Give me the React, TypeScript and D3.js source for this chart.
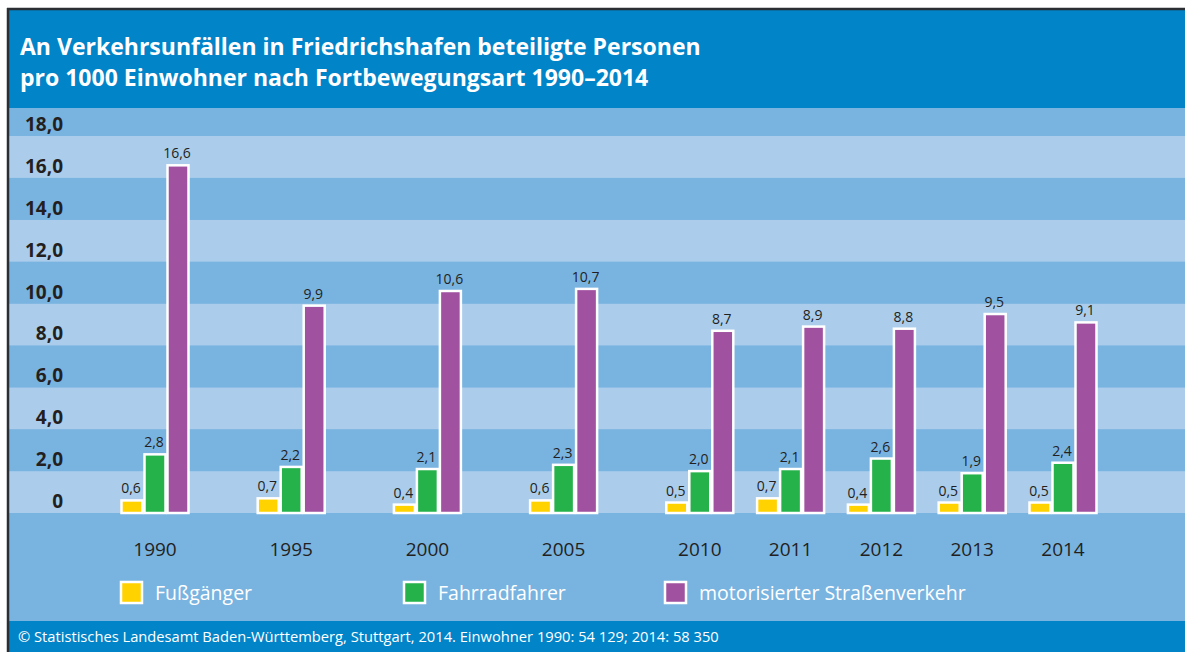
import React from "react";
import * as d3 from "d3";

const years = ["1990", "1995", "2000", "2005", "2010", "2011", "2012", "2013", "2014"];
const fuss = [0.6, 0.7, 0.4, 0.6, 0.5, 0.7, 0.4, 0.5, 0.5];
const fahrrad = [2.8, 2.2, 2.1, 2.3, 2.0, 2.1, 2.6, 1.9, 2.4];
const motor = [16.6, 9.9, 10.6, 10.7, 8.7, 8.9, 8.8, 9.5, 9.1];
const seriesNames = ["Fußgänger", "Fahrradfahrer", "motorisierter Straßenverkehr"];
const seriesColors = ["#FFD200", "#25B24A", "#A0519F"];
const yTicks = [0, 2, 4, 6, 8, 10, 12, 14, 16, 18];
const title1 = "An Verkehrsunfällen in Friedrichshafen beteiligte Personen";
const title2 = "pro 1000 Einwohner nach Fortbewegungsart 1990–2014";
const footer = "© Statistisches Landesamt Baden-Württemberg, Stuttgart, 2014. Einwohner 1990: 54 129; 2014: 58 350";

const W = 1185, H = 652;
const FONT = "'Open Sans', 'Noto Sans', sans-serif";
const DARK = "#79B3E0", LIGHT = "#ABCDEB", HEAD = "#0284C9";

export default function App() {
  const y = d3.scaleLinear().domain([0, 18]).range([513, 136]);
  // slot index: five-year steps take 1.5 slots, annual steps 1 slot
  const slot = (i: number) => (i <= 4 ? i * 1.5 : 6 + (i - 4));
  const x = d3.scaleLinear().domain([0, 10]).range([155, 1063]);
  const bw = 23;
  const series = [fuss, fahrrad, motor];
  const fmt = (v: number) => d3.format(".1f")(v).replace(".", ",");

  const bands: { y0: number; y1: number; light: boolean }[] = [];
  for (let v = 0; v < 18; v += 2) {
    bands.push({ y0: y(v + 2), y1: y(v), light: (v / 2) % 2 === 0 });
  }

  const legendX = [121, 404, 665];

  return (
    <svg width={W} height={H} style={{ position: "absolute", left: 0, top: 0 }} fontFamily={FONT}>
      <rect x={0} y={0} width={W} height={H} fill="#fff" />
      {/* frame */}
      <rect x={8} y={9} width={W - 8} height={H - 9} fill={DARK} />
      <rect x={9} y={10} width={W - 9} height={98} fill={HEAD} />
      {bands.map((b, i) => (
        <rect key={i} x={9} y={b.y0} width={W - 9} height={b.y1 - b.y0} fill={b.light ? LIGHT : DARK} />
      ))}
      <rect x={9} y={621} width={W - 9} height={H - 621} fill={HEAD} />
      <line x1={7} x2={W} y1={9} y2={9} stroke="#2b2e33" strokeWidth={2.5} />
      <line x1={8} x2={8} y1={8} y2={H} stroke="#2b2e33" strokeWidth={2.5} />

      <text x={20} y={55} fill="#fff" fontSize={23} fontWeight={700}>{title1}</text>
      <text x={20} y={86} fill="#fff" fontSize={23} fontWeight={700}>{title2}</text>

      {yTicks.map((t) => (
        <text key={t} x={63} y={y(t) - 5} textAnchor="end" fontSize={19} fontWeight={700} fill="#231f20">
          {t === 0 ? "0" : fmt(t)}
        </text>
      ))}

      {years.map((yr, i) => {
        const cx = x(slot(i));
        return (
          <g key={yr}>
            {series.map((s, k) => {
              const bx = cx - 1.5 * bw + k * bw;
              return (
                <g key={k}>
                  <rect x={bx + 1} y={y(s[i])} width={bw - 2} height={y(0) - y(s[i])}
                    fill={seriesColors[k]} stroke="#fff" strokeWidth={2.5} />
                  <text x={bx + bw / 2 - 1} y={y(s[i]) - 7} textAnchor="middle" fontSize={14} fill="#231f20">
                    {fmt(s[i])}
                  </text>
                </g>
              );
            })}
            <text x={cx} y={556} textAnchor="middle" fontSize={19} fill="#231f20">{yr}</text>
          </g>
        );
      })}

      {seriesNames.map((n, k) => (
        <g key={n}>
          <rect x={legendX[k]} y={582} width={21} height={21} fill={seriesColors[k]} stroke="#fff" strokeWidth={2.5} />
          <text x={legendX[k] + 34} y={600} fontSize={19.5} fill="#fff">{n}</text>
        </g>
      ))}

      <text x={18} y={642} fontSize={14.7} fill="#fff">{footer}</text>
    </svg>
  );
}
